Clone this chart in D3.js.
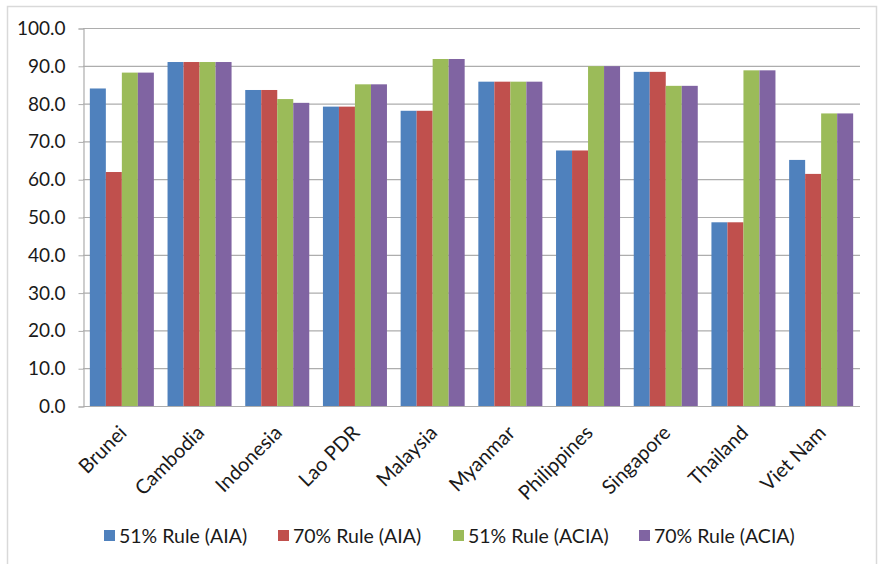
<!DOCTYPE html>
<html><head><meta charset="utf-8">
<script src="https://cdn.jsdelivr.net/npm/d3@7"></script>
<style>
html,body{margin:0;padding:0;background:#fff;}
svg{display:block;font-family:Lato, "Open Sans", sans-serif;}
</style></head>
<body>
<svg id="chart" width="881" height="564"></svg>
<script>
const categories = ["Brunei","Cambodia","Indonesia","Lao PDR","Malaysia","Myanmar","Philippines","Singapore","Thailand","Viet Nam"];
const seriesNames = ["51% Rule (AIA)","70% Rule (AIA)","51% Rule (ACIA)","70% Rule (ACIA)"];
const rule51AIA  = [84.0, 91.0, 83.6, 79.2, 78.1, 85.8, 67.6, 88.4, 48.6, 65.1];
const rule70AIA  = [61.9, 91.0, 83.6, 79.2, 78.1, 85.8, 67.6, 88.4, 48.6, 61.4];
const rule51ACIA = [88.2, 91.0, 81.2, 85.1, 91.8, 85.8, 89.9, 84.7, 88.8, 77.4];
const rule70ACIA = [88.2, 91.0, 80.2, 85.1, 91.8, 85.8, 89.9, 84.7, 88.8, 77.4];
const yTicks = [0,10,20,30,40,50,60,70,80,90,100];
const colors = ["#4F81BD","#C0504D","#9BBB59","#8064A2"];

const series = [rule51AIA, rule70AIA, rule51ACIA, rule70ACIA];
const svg = d3.select("#chart");

// outer chart border
svg.append("path").attr("d","M7.5,564 V6.5 H876.5 V564")
  .attr("fill","none").attr("stroke","#d9d9d9").attr("stroke-width",1.5);

const L = 83, R = 860, T = 28, B = 406;
const x = d3.scaleBand().domain(categories).range([L, R]).paddingInner(0.176).paddingOuter(0.088);
const xs = d3.scaleBand().domain(d3.range(4)).range([0, x.bandwidth()]);
const y = d3.scaleLinear().domain([0,100]).range([B, T]);

// gridlines
svg.append("g").selectAll("line").data(yTicks.filter(t=>t>0)).join("line")
  .attr("x1", L).attr("x2", R).attr("y1", d=>y(d)+0.5).attr("y2", d=>y(d)+0.5)
  .attr("stroke","#adadad").attr("stroke-width",1.2);

// bars
const g = svg.append("g");
categories.forEach((c, i) => {
  series.forEach((s, j) => {
    g.append("rect")
      .attr("x", x(c) + xs(j))
      .attr("y", y(s[i]))
      .attr("width", xs.bandwidth())
      .attr("height", B - y(s[i]))
      .attr("fill", colors[j]);
  });
});

// y axis
const yAxis = d3.axisLeft(y).tickValues(yTicks).tickFormat(d3.format(".1f")).tickSize(5).tickPadding(13);
const ya = svg.append("g").attr("transform", `translate(${L+0.5},0.5)`).call(yAxis);
ya.select(".domain").attr("stroke","#adadad").attr("stroke-width",1.2);
ya.selectAll(".tick line").attr("stroke","#adadad");
ya.selectAll(".tick text").attr("font-size",19).attr("fill","#1a1a1a").attr("font-family","Lato");

// x axis line
svg.append("line").attr("x1",L).attr("x2",R).attr("y1",B+0.5).attr("y2",B+0.5)
  .attr("stroke","#adadad").attr("stroke-width",1.2);

// x labels
svg.append("g").selectAll("text").data(categories).join("text")
  .attr("transform", d => `translate(${x(d)+x.bandwidth()/2+6},${B+28}) rotate(-45)`)
  .attr("text-anchor","end")
  .attr("font-size",20).attr("fill","#1a1a1a")
  .text(d=>d);

// legend
const legX = [104, 278, 453, 639];
const lg = svg.append("g");
seriesNames.forEach((n, j) => {
  lg.append("rect").attr("x", legX[j]).attr("y", 530).attr("width", 11).attr("height", 11).attr("fill", colors[j]);
  lg.append("text").attr("x", legX[j]+15).attr("y", 543).attr("font-size",19.5).attr("fill","#1a1a1a").text(n);
});
</script>
</body></html>
